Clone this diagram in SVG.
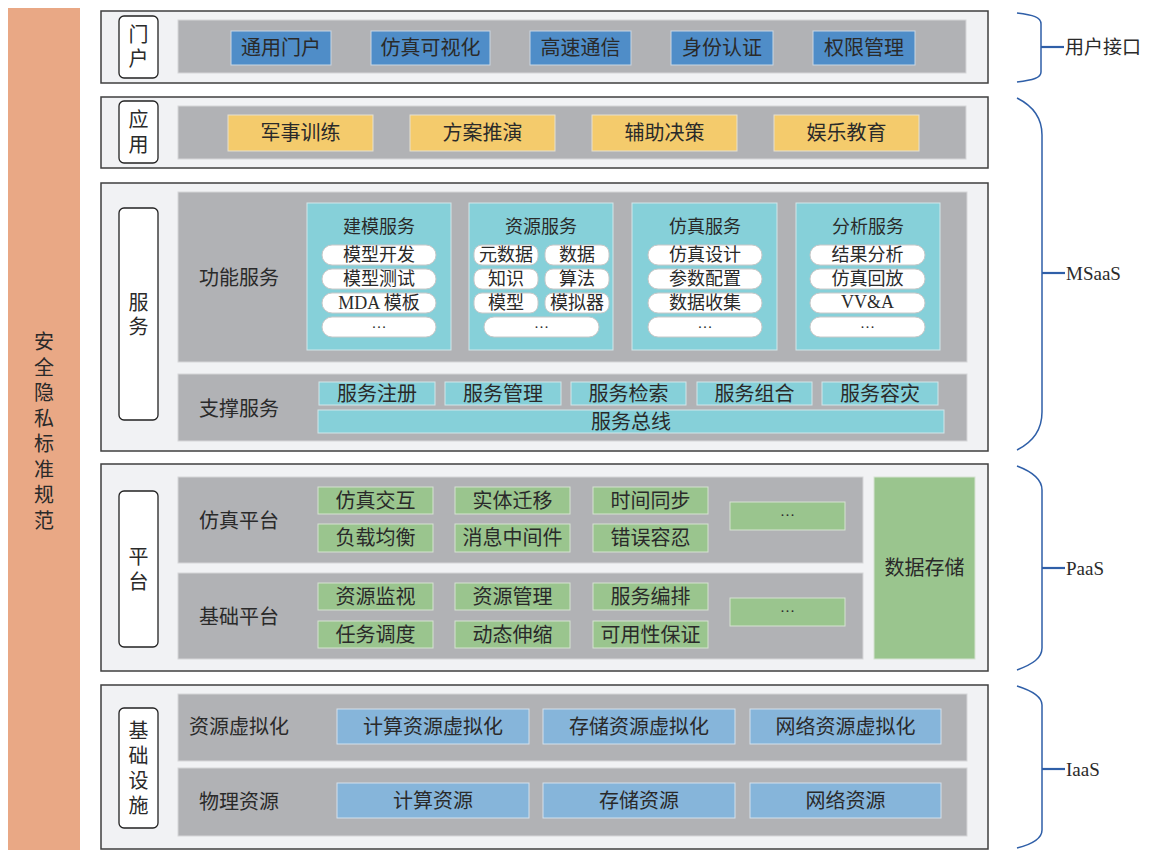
<svg xmlns="http://www.w3.org/2000/svg" width="1155" height="850" viewBox="0 0 1155 850">
<style>
.layer{fill:#F1F2F4;stroke:#3F3F3F;stroke-width:1.5}
.lbl{fill:#FFFFFF;stroke:#222;stroke-width:1.3}
.gray{fill:#B1B2B5;stroke:#D6D6D8;stroke-width:1}
.blue{fill:#4F8DC8;stroke:#C9D6E3;stroke-width:1}
.lblue{fill:#86B5DA;stroke:#D3E0EC;stroke-width:1}
.yel{fill:#F4CB6C;stroke:#E6E0D0;stroke-width:1}
.teal{fill:#86D0D9;stroke:#D2E6E9;stroke-width:1}
.green{fill:#9AC58E;stroke:#D6E2D2;stroke-width:1}
.pill{fill:#FFFFFF;stroke:#C8C8C8;stroke-width:1}
.brace{fill:none;stroke:#2F5FA8;stroke-width:1.5}
.tick{fill:none;stroke:#2F5FA8;stroke-width:2.2}
text{font-family:"Liberation Serif","Noto Sans CJK SC",serif;fill:#2A2A2A;text-anchor:middle;dominant-baseline:central}
.t20{font-size:20px}
.t18{font-size:18px}
.dots{font-size:15px}
.side{font-size:19px;text-anchor:start}
</style>

<g id="left-bar">
<rect x="8" y="8" width="72" height="842" fill="#E9A885"/>
<text class="t20" x="44" y="342">安</text>
<text class="t20" x="44" y="367.5">全</text>
<text class="t20" x="44" y="393">隐</text>
<text class="t20" x="44" y="418.5">私</text>
<text class="t20" x="44" y="444">标</text>
<text class="t20" x="44" y="469.5">准</text>
<text class="t20" x="44" y="495">规</text>
<text class="t20" x="44" y="520.5">范</text>
</g>

<g id="layer-portal">
<rect class="layer" x="101" y="11" width="887" height="72"/>
<rect class="lbl" x="119" y="16" width="39" height="62" rx="5"/>
<text class="t20" x="138.5" y="35">门</text>
<text class="t20" x="138.5" y="59">户</text>
<rect class="gray" x="178" y="20" width="788" height="53"/>
<g id="portal-items">
<rect class="blue" x="231" y="31" width="100" height="34"/><text class="t20" x="281" y="48">通用门户</text>
<rect class="blue" x="371" y="31" width="119" height="34"/><text class="t20" x="430.5" y="48">仿真可视化</text>
<rect class="blue" x="530" y="31" width="101" height="34"/><text class="t20" x="580.5" y="48">高速通信</text>
<rect class="blue" x="671" y="31" width="102" height="34"/><text class="t20" x="722" y="48">身份认证</text>
<rect class="blue" x="813" y="31" width="102" height="34"/><text class="t20" x="864" y="48">权限管理</text>
</g>
</g>

<g id="layer-app">
<rect class="layer" x="101" y="97" width="887" height="71"/>
<rect class="lbl" x="119" y="101" width="39" height="62" rx="5"/>
<text class="t20" x="138.5" y="120">应</text>
<text class="t20" x="138.5" y="145">用</text>
<rect class="gray" x="178" y="106" width="788" height="53"/>
<rect class="yel" x="228" y="115" width="145" height="36"/><text class="t20" x="300.5" y="133">军事训练</text>
<rect class="yel" x="410" y="115" width="145" height="36"/><text class="t20" x="482.5" y="133">方案推演</text>
<rect class="yel" x="592" y="115" width="145" height="36"/><text class="t20" x="664.5" y="133">辅助决策</text>
<rect class="yel" x="774" y="115" width="145" height="36"/><text class="t20" x="846.5" y="133">娱乐教育</text>
</g>

<g id="layer-service">
<rect class="layer" x="101" y="183" width="887" height="268"/>
<rect class="lbl" x="119" y="208" width="39" height="212" rx="5"/>
<text class="t20" x="138.5" y="303">服</text>
<text class="t20" x="138.5" y="327">务</text>
<rect class="gray" x="178" y="192" width="789" height="170"/>
<rect class="gray" x="178" y="374" width="789" height="67"/>
<text class="t20" x="239" y="278">功能服务</text>
<text class="t20" x="239" y="409">支撑服务</text>

<g id="modeling-service">
<rect class="teal" x="307" y="203" width="144" height="147"/>
<text class="t18" x="379" y="227">建模服务</text>
<rect class="pill" x="322" y="245" width="114" height="20" rx="10"/><text class="t18" x="379" y="255">模型开发</text>
<rect class="pill" x="322" y="269" width="114" height="20" rx="10"/><text class="t18" x="379" y="279">模型测试</text>
<rect class="pill" x="322" y="293" width="114" height="20" rx="10"/><text class="t18" x="379" y="303">MDA 模板</text>
<rect class="pill" x="322" y="317" width="114" height="20" rx="10"/><text class="dots" x="379" y="323">…</text>
</g>

<g id="resource-service">
<rect class="teal" x="469" y="203" width="144" height="147"/>
<text class="t18" x="541" y="227">资源服务</text>
<rect class="pill" x="474" y="245" width="64" height="20" rx="8"/><text class="t18" x="506" y="255">元数据</text>
<rect class="pill" x="545" y="245" width="64" height="20" rx="8"/><text class="t18" x="577" y="255">数据</text>
<rect class="pill" x="474" y="269" width="64" height="20" rx="8"/><text class="t18" x="506" y="279">知识</text>
<rect class="pill" x="545" y="269" width="64" height="20" rx="8"/><text class="t18" x="577" y="279">算法</text>
<rect class="pill" x="474" y="293" width="64" height="20" rx="8"/><text class="t18" x="506" y="303">模型</text>
<rect class="pill" x="545" y="293" width="64" height="20" rx="8"/><text class="t18" x="577" y="303">模拟器</text>
<rect class="pill" x="484" y="317" width="115" height="20" rx="10"/><text class="dots" x="541.5" y="323">…</text>
</g>

<g id="simulation-service">
<rect class="teal" x="632" y="203" width="145" height="147"/>
<text class="t18" x="705" y="227">仿真服务</text>
<rect class="pill" x="648" y="245" width="114" height="20" rx="10"/><text class="t18" x="705" y="255">仿真设计</text>
<rect class="pill" x="648" y="269" width="114" height="20" rx="10"/><text class="t18" x="705" y="279">参数配置</text>
<rect class="pill" x="648" y="293" width="114" height="20" rx="10"/><text class="t18" x="705" y="303">数据收集</text>
<rect class="pill" x="648" y="317" width="114" height="20" rx="10"/><text class="dots" x="705" y="323">…</text>
</g>

<g id="analysis-service">
<rect class="teal" x="796" y="203" width="144" height="147"/>
<text class="t18" x="868" y="227">分析服务</text>
<rect class="pill" x="810" y="245" width="115" height="20" rx="10"/><text class="t18" x="867.5" y="255">结果分析</text>
<rect class="pill" x="810" y="269" width="115" height="20" rx="10"/><text class="t18" x="867.5" y="279">仿真回放</text>
<rect class="pill" x="810" y="293" width="115" height="20" rx="10"/><text class="t18" x="867.5" y="302">VV&amp;A</text>
<rect class="pill" x="810" y="317" width="115" height="20" rx="10"/><text class="dots" x="867.5" y="323">…</text>
</g>

<g id="support-service">
<rect class="teal" x="319" y="382" width="116" height="23"/><text class="t20" x="377" y="393.5">服务注册</text>
<rect class="teal" x="445" y="382" width="116" height="23"/><text class="t20" x="503" y="393.5">服务管理</text>
<rect class="teal" x="571" y="382" width="115" height="23"/><text class="t20" x="628.5" y="393.5">服务检索</text>
<rect class="teal" x="697" y="382" width="115" height="23"/><text class="t20" x="754.5" y="393.5">服务组合</text>
<rect class="teal" x="822" y="382" width="116" height="23"/><text class="t20" x="880" y="393.5">服务容灾</text>
<rect class="teal" x="318" y="410" width="626" height="23"/><text class="t20" x="631" y="421.5">服务总线</text>
</g>
</g>

<g id="layer-platform">
<rect class="layer" x="101" y="464" width="887" height="207"/>
<rect class="lbl" x="119" y="491" width="39" height="156" rx="5"/>
<text class="t20" x="138.5" y="557">平</text>
<text class="t20" x="138.5" y="582">台</text>
<g id="sim-platform">
<rect class="gray" x="178" y="477" width="685" height="86"/>
<text class="t20" x="239" y="521">仿真平台</text>
<rect class="green" x="318" y="487" width="115" height="27"/><text class="t20" x="375.5" y="500.5">仿真交互</text>
<rect class="green" x="455" y="487" width="115" height="27"/><text class="t20" x="512.5" y="500.5">实体迁移</text>
<rect class="green" x="593" y="487" width="115" height="27"/><text class="t20" x="650.5" y="500.5">时间同步</text>
<rect class="green" x="318" y="524" width="115" height="28"/><text class="t20" x="375.5" y="538">负载均衡</text>
<rect class="green" x="455" y="524" width="115" height="28"/><text class="t20" x="512.5" y="538">消息中间件</text>
<rect class="green" x="593" y="524" width="115" height="28"/><text class="t20" x="650.5" y="538">错误容忍</text>
<rect class="green" x="730" y="502" width="115" height="28"/><text class="dots" x="787.5" y="511">…</text>
</g>
<g id="base-platform">
<rect class="gray" x="178" y="573" width="685" height="86"/>
<text class="t20" x="239" y="617">基础平台</text>
<rect class="green" x="318" y="583" width="115" height="27"/><text class="t20" x="375.5" y="596.5">资源监视</text>
<rect class="green" x="455" y="583" width="115" height="27"/><text class="t20" x="512.5" y="596.5">资源管理</text>
<rect class="green" x="593" y="583" width="115" height="27"/><text class="t20" x="650.5" y="596.5">服务编排</text>
<rect class="green" x="318" y="621" width="115" height="27"/><text class="t20" x="375.5" y="634.5">任务调度</text>
<rect class="green" x="455" y="621" width="115" height="27"/><text class="t20" x="512.5" y="634.5">动态伸缩</text>
<rect class="green" x="593" y="621" width="115" height="27"/><text class="t20" x="650.5" y="634.5">可用性保证</text>
<rect class="green" x="730" y="598" width="115" height="28"/><text class="dots" x="787.5" y="607">…</text>
</g>
<g id="data-storage">
<rect class="green" x="874" y="477" width="101" height="182"/>
<text class="t20" x="924.5" y="568">数据存储</text>
</g>
</g>

<g id="layer-infra">
<rect class="layer" x="101" y="685" width="887" height="164"/>
<rect class="lbl" x="119" y="708" width="39" height="120" rx="5"/>
<text class="t20" x="138.5" y="731">基</text>
<text class="t20" x="138.5" y="756">础</text>
<text class="t20" x="138.5" y="781">设</text>
<text class="t20" x="138.5" y="806">施</text>
<g id="virtualization">
<rect class="gray" x="178" y="694" width="789" height="67"/>
<text class="t20" x="239" y="727">资源虚拟化</text>
<rect class="lblue" x="337" y="709" width="192" height="35"/><text class="t20" x="433" y="726.5">计算资源虚拟化</text>
<rect class="lblue" x="543" y="709" width="192" height="35"/><text class="t20" x="639" y="726.5">存储资源虚拟化</text>
<rect class="lblue" x="750" y="709" width="191" height="35"/><text class="t20" x="845.5" y="726.5">网络资源虚拟化</text>
</g>
<g id="physical">
<rect class="gray" x="178" y="768" width="789" height="68"/>
<text class="t20" x="239" y="802">物理资源</text>
<rect class="lblue" x="337" y="783" width="192" height="35"/><text class="t20" x="433" y="800.5">计算资源</text>
<rect class="lblue" x="543" y="783" width="192" height="35"/><text class="t20" x="639" y="800.5">存储资源</text>
<rect class="lblue" x="750" y="783" width="191" height="35"/><text class="t20" x="845.5" y="800.5">网络资源</text>
</g>
</g>

<g id="connectors">
<path class="brace" d="M1017,13 C1033,15 1041,17 1041,24 V72 C1041,78 1033,80 1017,82"/>
<path class="tick" d="M1041,47 H1064"/>
<path class="brace" d="M1017,98 C1033,106 1042,118 1042,135 V412 C1042,430 1033,442 1017,450"/>
<path class="tick" d="M1042,273 H1065"/>
<path class="brace" d="M1017,466 C1033,472 1042,480 1042,490 V648 C1042,658 1033,664 1017,670"/>
<path class="tick" d="M1042,568 H1065"/>
<path class="brace" d="M1017,686 C1033,691 1042,697 1042,705 V830 C1042,838 1033,844 1017,848"/>
<path class="tick" d="M1042,769 H1065"/>
</g>

<g id="brace-labels">
<text class="side" x="1065" y="47">用户接口</text>
<text class="side" x="1066" y="273">MSaaS</text>
<text class="side" x="1066" y="568">PaaS</text>
<text class="side" x="1066" y="769">IaaS</text>
</g>
</svg>
